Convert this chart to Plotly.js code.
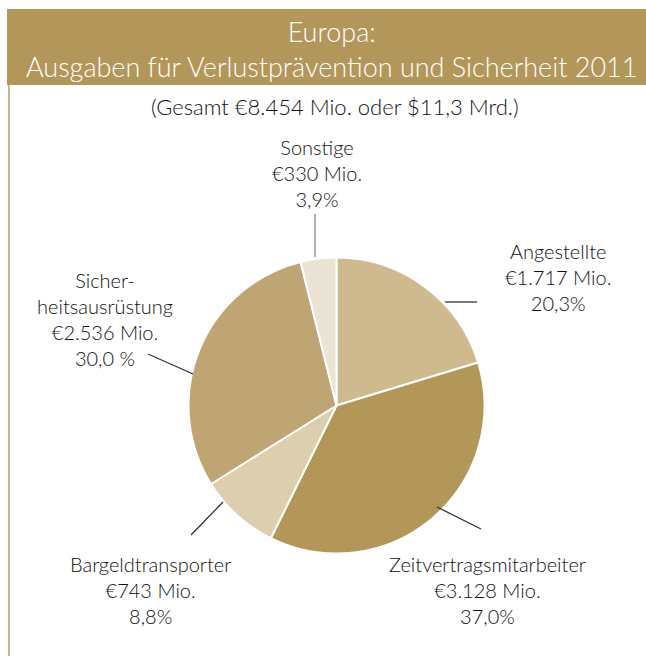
<!DOCTYPE html>
<html>
<head>
<meta charset="utf-8">
<script src="https://cdn.plot.ly/plotly-3.0.1.min.js"></script>
<style>html,body{margin:0;padding:0;background:#fff;}#chart{width:646px;height:656px;}</style>
</head>
<body>
<div id="chart"></div>
<script>
// Data
const categories = ["Angestellte", "Zeitvertragsmitarbeiter", "Bargeldtransporter", "Sicherheitsausrüstung", "Sonstige"];
const labelNames = ["Angestellte", "Zeitvertragsmitarbeiter", "Bargeldtransporter", "Sicher-<br>heitsausrüstung", "Sonstige"];
const valuesMio = [1717, 3128, 743, 2536, 330];
const valueLabels = ["€1.717 Mio.", "€3.128 Mio.", "€743 Mio.", "€2.536 Mio.", "€330 Mio."];
const percentLabels = ["20,3%", "37,0%", "8,8%", "30,0 %", "3,9%"];
const sliceColors = ["#cfb98f", "#b39759", "#ddceb0", "#bfa573", "#ebe3d3"];

const W = 646, H = 656;
const px = x => x / W;
const py = y => 1 - y / H;

// pie geometry (pixels)
const cx = 336.5, cy = 405.5, r = 148;

const trace = {
  type: "pie",
  labels: categories,
  values: valuesMio,
  sort: false,
  direction: "clockwise",
  rotation: 0,
  textinfo: "none",
  hoverinfo: "skip",
  marker: {colors: sliceColors, line: {color: "#ffffff", width: 2}},
  domain: {x: [px(cx - r), px(cx + r)], y: [py(cy + r), py(cy - r)]},
  showlegend: false
};

const labelPos = [
  [558, 277], [488, 590], [150, 590], [105, 319], [317, 173]
];

const font = {family: "Lato, 'Noto Sans', sans-serif", size: 20, color: "#111111", weight: 300};

const annotations = categories.map((c, i) => ({
  xref: "paper", yref: "paper",
  x: px(labelPos[i][0]), y: py(labelPos[i][1]),
  xanchor: "center", yanchor: "middle",
  text: labelNames[i] + "<br>" + valueLabels[i] + "<br>" + percentLabels[i],
  showarrow: false, align: "center", font: font
}));

annotations.push({
  xref: "paper", yref: "paper", x: px(331), y: py(49), xanchor: "center", yanchor: "middle",
  text: "Europa:<br>Ausgaben für Verlustprävention und Sicherheit 2011",
  showarrow: false, align: "center",
  font: {family: "Lato, 'Noto Sans', sans-serif", size: 27, color: "#ffffff", weight: 300}
});
annotations.push({
  xref: "paper", yref: "paper", x: px(335), y: py(106), xanchor: "center", yanchor: "middle",
  text: "(Gesamt €8.454 Mio. oder $11,3 Mrd.)",
  showarrow: false, font: {family: "Lato, 'Noto Sans', sans-serif", size: 22, color: "#111111", weight: 300}
});

const leaders = [
  [445, 302, 477, 302, "#333"],
  [437, 507, 481, 529, "#333"],
  [223, 502, 191, 535, "#333"],
  [193, 374, 148, 354, "#333"],
  [315, 257, 315, 214, "#888"]
];

const shapes = [
  {type: "rect", xref: "paper", yref: "paper", x0: px(7), x1: 1, y0: py(85), y1: py(9),
   fillcolor: "#b3965a", line: {width: 0}, layer: "below"},
  {type: "line", xref: "paper", yref: "paper", x0: px(9), x1: px(9), y0: py(85), y1: 0,
   line: {color: "#cdb58a", width: 2}}
].concat(leaders.map(l => ({
  type: "line", xref: "paper", yref: "paper",
  x0: px(l[0]), y0: py(l[1]), x1: px(l[2]), y1: py(l[3]),
  line: {color: l[4], width: 1.3}
})));

const layout = {
  width: W, height: H,
  margin: {l: 0, r: 0, t: 0, b: 0},
  paper_bgcolor: "#ffffff",
  plot_bgcolor: "#ffffff",
  annotations: annotations,
  shapes: shapes,
  showlegend: false
};

Plotly.newPlot("chart", [trace], layout, {displayModeBar: false, staticPlot: true});
</script>
</body>
</html>
